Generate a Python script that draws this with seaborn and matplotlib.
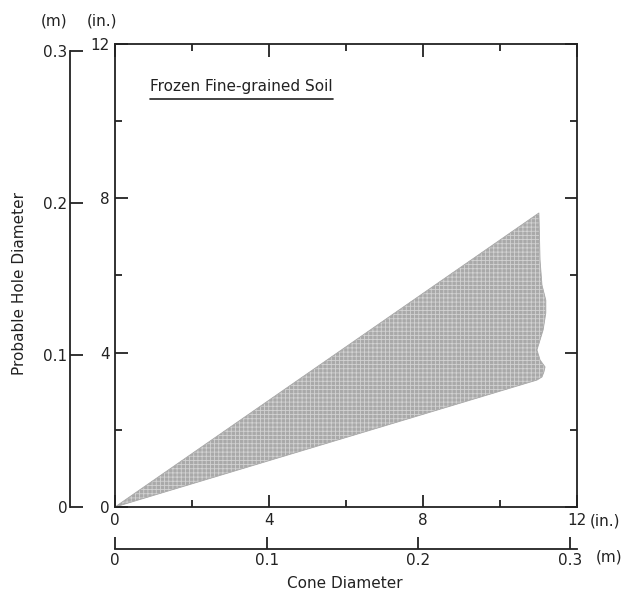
import numpy as np
import pandas as pd
import matplotlib
matplotlib.use("Agg")
import matplotlib.pyplot as plt
import seaborn as sns

# Outline of the shaded band (inches)
upper_x = [0.0, 11.01]
upper_y = [0.0, 7.62]
edge_x = [11.04, 11.09, 11.19, 11.19, 11.12, 10.96, 11.04, 11.17, 11.14, 11.09]
edge_y = [6.40, 5.75, 5.36, 5.03, 4.59, 4.07, 3.81, 3.63, 3.50, 3.37]
lower_x = [10.96, 0.0]
lower_y = [3.29, 0.0]

in_ticks = [0, 4, 8, 12]
m_ticks = [0, 0.1, 0.2, 0.3]
IN2M = 0.0254

sns.set_style("ticks")
plt.rcParams["font.family"] = ["DejaVu Sans"]
plt.rcParams["hatch.linewidth"] = 0.6

outline = pd.DataFrame({
    "x": upper_x + edge_x + lower_x,
    "y": upper_y + edge_y + lower_y,
})

fig = plt.figure(figsize=(6.24, 6), dpi=100)
rect = [0.1843, 0.155, 0.7404, 0.7717]

# metre scales, drawn as offset spines
axm = fig.add_axes(rect)
axm.set_xlim(0, 12 * IN2M)
axm.set_ylim(0, 12 * IN2M)
axm.patch.set_visible(False)
for s in ["top", "right"]:
    axm.spines[s].set_visible(False)
axm.spines["left"].set_position(("outward", 32.4))
axm.spines["bottom"].set_position(("outward", 30.2))
axm.spines["left"].set_bounds(0, 0.3)
axm.spines["bottom"].set_bounds(0, 12 * IN2M)
for s in ["left", "bottom"]:
    axm.spines[s].set_linewidth(1.3)
    axm.spines[s].set_color("#222222")
axm.set_xticks(m_ticks)
axm.set_yticks(m_ticks)
axm.set_xticklabels(["0", "0.1", "0.2", "0.3"])
axm.set_yticklabels(["0", "0.1", "0.2", "0.3"])
axm.tick_params(direction="in", length=9, width=1.3, labelsize=11,
                color="#222222", labelcolor="#222222")
axm.tick_params(axis="y", pad=2)
axm.tick_params(axis="x", pad=3)

# main inch axes
ax = fig.add_axes(rect)
ax.patch.set_visible(False)
ax.fill(outline["x"], outline["y"], facecolor="#a9a9a9", edgecolor="#d2d2d2",
        hatch="++++", linewidth=0)
sns.lineplot(data=outline, x="x", y="y", sort=False, estimator=None,
             color="#a9a9a9", linewidth=0.6, ax=ax)

ax.set_xlim(0, 12)
ax.set_ylim(0, 12)
ax.set_xticks(in_ticks)
ax.set_yticks(in_ticks)
ax.set_xticks([2, 6, 10], minor=True)
ax.set_yticks([2, 6, 10], minor=True)
ax.set_xlabel("")
ax.set_ylabel("")
for s in ax.spines.values():
    s.set_visible(True)
    s.set_linewidth(1.3)
    s.set_color("#222222")
ax.tick_params(which="both", direction="in", top=True, right=True,
               width=1.3, color="#222222", labelcolor="#222222", labelsize=11)
ax.tick_params(which="major", length=9)
ax.tick_params(which="minor", length=5)
ax.tick_params(axis="y", pad=4)
ax.tick_params(axis="x", pad=4)

# in-plot title with underline
title = ax.text(0.91, 10.78, "Frozen Fine-grained Soil", fontsize=11,
                color="#222222", va="baseline", ha="left")
fig.canvas.draw()
bb = title.get_window_extent().transformed(ax.transData.inverted())
ax.plot([bb.x0, bb.x1], [bb.y0 - 0.12, bb.y0 - 0.12], color="#222222", lw=1.2)

# unit and axis labels
fig.text(0.0865, 0.965, "(m)", fontsize=11, ha="center", va="center", color="#222222")
fig.text(0.163, 0.965, "(in.)", fontsize=11, ha="center", va="center", color="#222222")
fig.text(0.9455, 0.132, "(in.)", fontsize=11, ha="left", va="center", color="#222222")
fig.text(0.955, 0.0717, "(m)", fontsize=11, ha="left", va="center", color="#222222")
fig.text(0.032, 0.528, "Probable Hole Diameter", fontsize=11, rotation=90,
         ha="center", va="center", color="#222222")
fig.text(0.553, 0.028, "Cone Diameter", fontsize=11, ha="center", va="center",
         color="#222222")

fig.savefig("out.png", dpi=100)
